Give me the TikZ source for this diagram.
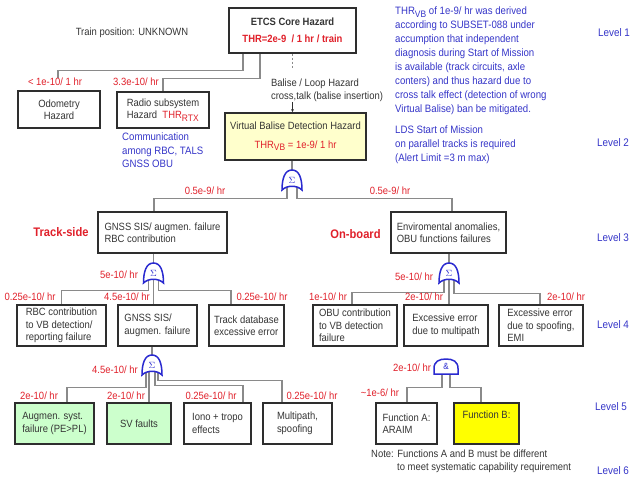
\documentclass[tikz,border=0pt]{standalone}
\usepackage{fontspec}
\setmainfont[FakeStretch=0.9]{Liberation Sans}
\usetikzlibrary{calc,arrows.meta}
\definecolor{myred}{HTML}{E0202A}
\definecolor{myblue}{HTML}{3535C8}
\definecolor{boxline}{HTML}{2E2E2E}
\definecolor{connline}{HTML}{8A8A8A}
\definecolor{vbfill}{HTML}{FFFFCC}
\definecolor{greenfill}{HTML}{CCFFCC}
\definecolor{yellowfill}{HTML}{FFFF00}
\definecolor{gatecol}{HTML}{2A2AD0}
\definecolor{txtgray}{HTML}{353535}
\newcommand{\lowsub}[1]{\raisebox{-0.5ex}{\fontsize{9.4}{9.4}\selectfont #1}}
\pgfdeclarelayer{bg}
\pgfdeclarelayer{gates}
\pgfsetlayers{bg,gates,main}
\newcommand{\orgate}[1]{%
  \draw[gateshape] ($(#1)+(-10,10)$) .. controls ($(#1)+(-10,-2)$) and ($(#1)+(-7,-10)$) .. ($(#1)+(0,-10)$)
   .. controls ($(#1)+(7,-10)$) and ($(#1)+(10,-2)$) .. ($(#1)+(10,10)$)
   .. controls ($(#1)+(5,5)$) and ($(#1)+(-5,5)$) .. cycle;}
\newcommand{\andgate}[1]{%
  \draw[gateshape] ($(#1)+(-12,7.5)$) -- ($(#1)+(-12,2)$) .. controls ($(#1)+(-12,-5)$) and ($(#1)+(-7,-7.5)$) .. ($(#1)+(0,-7.5)$)
   .. controls ($(#1)+(7,-7.5)$) and ($(#1)+(12,-5)$) .. ($(#1)+(12,2)$) -- ($(#1)+(12,7.5)$) -- cycle;}
\tikzset{
  hbox/.style={draw=boxline, line width=1.4pt, fill=white, inner sep=2pt, align=center, text=txtgray},
  lbox/.style={hbox, align=left},
  conn/.style={draw=connline, line width=1.4pt},
  gateshape/.style={draw=gatecol, line width=1.5pt, fill=white},
  gatesym/.style={text=gatecol, inner sep=0pt, font=\fontsize{9}{9}\selectfont},
  rlabel/.style={text=myred, inner sep=0pt},
  bluetext/.style={text=myblue, inner sep=0pt, align=left},
  levellab/.style={text=myblue, inner sep=0pt, font=\fontsize{11}{12}\selectfont},
  graytext/.style={text=txtgray, inner sep=0pt, align=left},
  sidelab/.style={text=myred, inner sep=0pt, font=\fontsize{12.4}{13}\selectfont\bfseries}
}
\begin{document}
\begin{tikzpicture}[x=1pt, y=-1pt, font=\fontsize{10.5}{12.5}\selectfont]
\useasboundingbox (0,0) rectangle (644,482);

% ---------- boxes ----------
\node[hbox, minimum width=127pt, minimum height=45pt] (etcs) at (292.5,30.5)
  {\textbf{ETCS Core Hazard}\\[4pt]\textcolor{myred}{\textbf{THR=2e-9 \ / 1 hr / train}}};
\node[hbox, minimum width=82pt, minimum height=37pt] (odo) at (59,109.5) {Odometry\\Hazard};
\node[lbox, minimum width=92pt, minimum height=36pt] (radio) at (163,110)
  {Radio subsystem\\Hazard \ \textcolor{myred}{THR\lowsub{RTX}}};
\node[hbox, fill=vbfill, minimum width=141pt, minimum height=47pt] (vb) at (295.5,136.5)
  {Virtual Balise Detection Hazard\\[6pt]\textcolor{myred}{THR\lowsub{VB} = 1e-9/ 1 hr}};

\node[lbox, minimum width=129pt, minimum height=41pt] (gnssrbc) at (162.5,232.5)
  {GNSS SIS/ augmen. failure\\ RBC contribution};
\node[lbox, minimum width=115pt, minimum height=41pt] (env) at (448.5,232.5)
  {Enviromental anomalies,\\OBU functions failures};

\node[lbox, minimum width=89pt, minimum height=41pt] (rbc) at (61.5,325.5)
  {RBC contribution\\to VB detection/\\reporting failure};
\node[lbox, minimum width=79pt, minimum height=41pt] (gnss4) at (157.5,325.5)
  {GNSS SIS/\\augmen. failure};
\node[lbox, minimum width=75pt, minimum height=41pt] (track) at (246.5,325.5)
  {Track database\\excessive error};
\node[lbox, minimum width=84pt, minimum height=41pt] (obu) at (355,325.5)
  {OBU contribution\\to VB detection\\failure};
\node[lbox, minimum width=84pt, minimum height=41pt] (exc1) at (446,325.5)
  {Excessive error\\due to multipath};
\node[lbox, minimum width=84pt, minimum height=41pt] (exc2) at (541,325.5)
  {Excessive error\\due to spoofing,\\EMI};

\node[lbox, fill=greenfill, minimum width=79pt, minimum height=41pt] (aug) at (54.5,423.5)
  {Augmen. syst.\\failure (PE>PL)};
\node[hbox, fill=greenfill, minimum width=64pt, minimum height=41pt] (sv) at (139,423.5) {SV faults};
\node[lbox, minimum width=67pt, minimum height=41pt] (iono) at (217.5,423.5) {Iono + tropo\\effects};
\node[lbox, minimum width=69pt, minimum height=41pt] (multi) at (297.5,423.5) {Multipath,\\spoofing};
\node[lbox, minimum width=61pt, minimum height=41pt] (funA) at (406.5,423.5) {Function A:\\ARAIM};
\node[hbox, fill=yellowfill, minimum width=65pt, minimum height=41pt, text height=8pt, text depth=19pt] (funB) at (486.5,423.5) {Function B:};

% ---------- gates ----------
\node[gatesym, minimum width=20pt, minimum height=20pt] (g1) at (292,180) {$\Sigma$};
\node[gatesym, minimum width=20pt, minimum height=20pt] (g2) at (153.5,273) {$\Sigma$};
\node[gatesym, minimum width=20pt, minimum height=20pt] (g3) at (449,273) {$\Sigma$};
\node[gatesym, minimum width=20pt, minimum height=20pt] (g4) at (152,365) {$\Sigma$};
\node[gatesym, minimum width=24pt, minimum height=15pt] (g5) at (446,366.5) {\&};
\begin{pgfonlayer}{gates}
  \orgate{g1}\orgate{g2}\orgate{g3}\orgate{g4}\andgate{g5}
\end{pgfonlayer}

% ---------- texts ----------
\node[graytext] (trainpos) at (132,33) {Train position: UNKNOWN};
\node[graytext] (balise) at (327,90.5) {Balise / Loop Hazard\\cross,talk (balise insertion)};
\node[bluetext, anchor=north west, font=\fontsize{10.7}{13.9}\selectfont] (note1) at (395,7)
  {THR\lowsub{VB} of 1e-9/ hr was derived\\according to SUBSET-088 under\\accumption that independent\\diagnosis during Start of Mission\\is available (track circuits, axle\\conters) and thus hazard due to\\cross talk effect (detection of wrong\\Virtual Balise) ban be mitigated.};
\node[bluetext, anchor=north west, font=\fontsize{10.7}{13.9}\selectfont] (note2) at (395,126)
  {LDS Start of Mission\\on parallel tracks is required\\(Alert Limit =3 m max)};
\node[bluetext, anchor=north west, font=\fontsize{10.7}{13.5}\selectfont] (comm) at (122,133)
  {Communication\\among RBC, TALS\\GNSS OBU};
\node[graytext, anchor=north west] (note3) at (371,450)
  {Note: Functions A and B must be different\\\hspace*{26pt}to meet systematic capability requirement};

\node[sidelab] (trackside) at (61,232) {Track-side};
\node[sidelab] (onboard) at (355.5,234) {On-board};

\node[levellab] (lv1) at (614,33) {Level 1};
\node[levellab] (lv2) at (613,143) {Level 2};
\node[levellab] (lv3) at (613,238) {Level 3};
\node[levellab] (lv4) at (613,325) {Level 4};
\node[levellab] (lv5) at (611,407) {Level 5};
\node[levellab] (lv6) at (613,471) {Level 6};

% red rate labels
\node[rlabel] (r1) at (55,82) {< 1e-10/ 1 hr};
\node[rlabel] (r2) at (136,82) {3.3e-10/ hr};
\node[rlabel] (r3) at (205,191) {0.5e-9/ hr};
\node[rlabel] (r4) at (390,191) {0.5e-9/ hr};
\node[rlabel] (r5) at (119,275) {5e-10/ hr};
\node[rlabel] (r6) at (414,277) {5e-10/ hr};
\node[rlabel] (r7) at (30,297) {0.25e-10/ hr};
\node[rlabel] (r8) at (127,297) {4.5e-10/ hr};
\node[rlabel] (r9) at (262,297) {0.25e-10/ hr};
\node[rlabel] (r10) at (328,297) {1e-10/ hr};
\node[rlabel] (r11) at (424,297) {2e-10/ hr};
\node[rlabel] (r12) at (566,297) {2e-10/ hr};
\node[rlabel] (r13) at (115,370) {4.5e-10/ hr};
\node[rlabel] (r14) at (39,396) {2e-10/ hr};
\node[rlabel] (r15) at (126,396) {2e-10/ hr};
\node[rlabel] (r16) at (211,396) {0.25e-10/ hr};
\node[rlabel] (r17) at (312,396) {0.25e-10/ hr};
\node[rlabel] (r18) at (412,368) {2e-10/ hr};
\node[rlabel] (r19) at (380,393) {\textasciitilde1e-6/ hr};

% ---------- connectors ----------
\begin{pgfonlayer}{bg}
\draw[conn] ([xshift=-49.5pt]etcs.south) |- ([xshift=-1pt,yshift=20pt]odo.north) -- ([xshift=-1pt,yshift=12pt]odo.north);
\draw[conn] ([xshift=-32.5pt]etcs.south) |- ([yshift=13pt]radio.north) -- (radio.north);
\draw[conn, line width=0.8pt, dashed, dash pattern=on 2pt off 2pt] (etcs.south) -- ++(0,14);
\draw[draw=boxline, line width=0.7pt, -{Latex[length=3pt,width=3pt]}] (etcs.south |- balise.south) -- (etcs.south |- vb.north);
\draw[conn] (g1.north |- vb.south) -- (g1.north);
\draw[conn] ([xshift=-5pt]g1.center) |- ([xshift=-8.5pt,yshift=13pt]gnssrbc.north) -- ([xshift=-8.5pt]gnssrbc.north);
\draw[conn] ([xshift=5pt]g1.center) |- ([xshift=3.5pt,yshift=13pt]env.north) -- ([xshift=3.5pt]env.north);
\draw[conn] (g2.north |- gnssrbc.south) -- (g2.north);
\draw[conn] ([xshift=-5pt]g2.center) |- ([yshift=14pt]rbc.north) -- (rbc.north);
\draw[conn] (g2.center) -- (g2.center |- gnss4.north);
\draw[conn] ([xshift=5pt]g2.center) |- ([xshift=-15.5pt,yshift=14pt]track.north) -- ([xshift=-15.5pt]track.north);
\draw[conn] (g3.north |- env.south) -- (g3.north);
\draw[conn] ([xshift=-5pt]g3.center) |- ([xshift=-3pt,yshift=12pt]obu.north) -- ([xshift=-3pt]obu.north);
\draw[conn] (g3.center) -- (g3.center |- exc1.north);
\draw[conn] ([xshift=5pt]g3.center) |- ([xshift=-1pt,yshift=11pt]exc2.north) -- ([xshift=-1pt]exc2.north);
\draw[conn] (g4.north |- gnss4.south) -- (g4.north);
\draw[conn] ([xshift=-6pt]g4.center) |- ([xshift=12.5pt,yshift=15pt]aug.north) -- ([xshift=12.5pt]aug.north);
\draw[conn] ([xshift=-3pt]g4.center) -- ([xshift=-3pt]g4.center |- sv.north);
\draw[conn] ([xshift=3pt]g4.center) |- ([xshift=25.5pt,yshift=17pt]iono.north) -- ([xshift=25.5pt]iono.north);
\draw[conn] ([xshift=6pt]g4.center) |- ([xshift=-15.5pt,yshift=22pt]multi.north) -- ([xshift=-15.5pt]multi.north);
\draw[conn] ([xshift=-4pt]g5.center) |- ([xshift=0.5pt,yshift=15pt]funA.north) -- ([xshift=0.5pt]funA.north);
\draw[conn] ([xshift=4pt]g5.center) |- ([xshift=-5.5pt,yshift=15pt]funB.north) -- ([xshift=-5.5pt]funB.north);
\end{pgfonlayer}
\end{tikzpicture}
\end{document}
